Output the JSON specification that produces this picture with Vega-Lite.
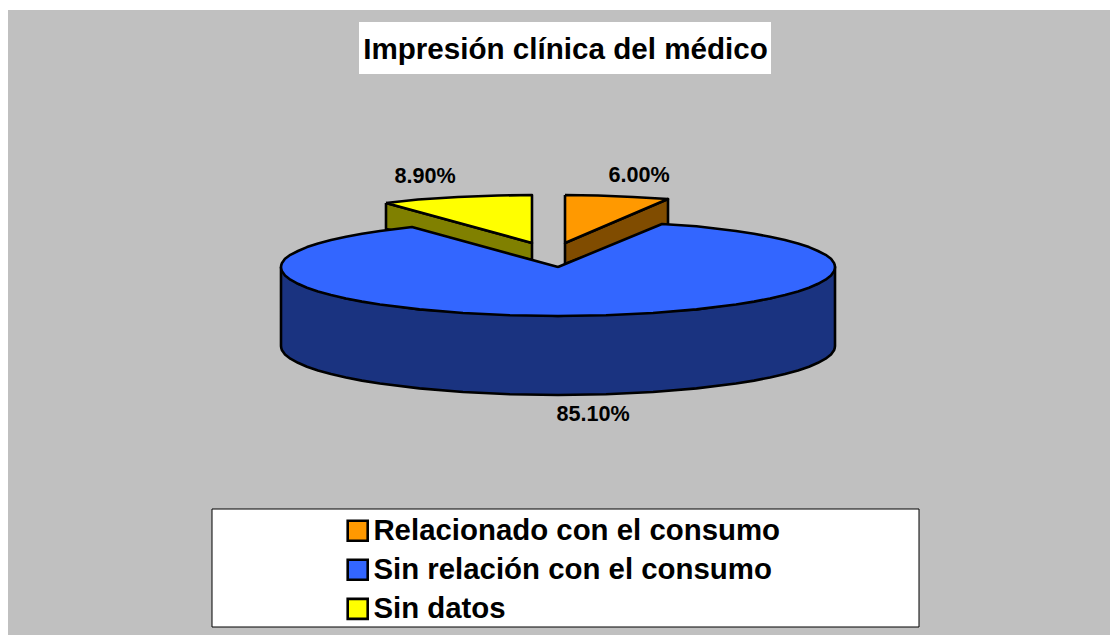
{
"$schema":"https://vega.github.io/schema/vega-lite/v6.json",
"width":1102,"height":625,
"autosize":{"type":"none"},
"padding":{"left":8,"top":10,"right":0,"bottom":0},
"background":"#FFFFFF",
"config":{"view":{"fill":"#C0C0C0","stroke":null}},
"title":{"text":"Impresión clínica del médico","font":"Liberation Sans","fontWeight":"bold","fontSize":29.6,"color":"#000000","anchor":"middle","frame":"group","dx":6.5,"dy":59.5,"zindex":1},
"datasets":{
"cajas":[{"caja":"titulo","x":-199,"x2":213,"y":245,"y2":193},{"caja":"leyenda","x":-346,"x2":361,"y":-242,"y2":-360}],
"etiquetas":[{"cat":"Relacionado con el consumo","valor":0.06,"x":81,"y":91},{"cat":"Sin relación con el consumo","valor":0.851,"x":35,"y":-148},{"cat":"Sin datos","valor":0.089,"x":-133,"y":90}],
"caras":[
{"cara":"lateral","cat":"Sin datos","x":-172,"y":64},{"cara":"lateral","cat":"Sin datos","x":-26,"y":24},{"cara":"lateral","cat":"Sin datos","x":-26,"y":7},{"cara":"lateral","cat":"Sin datos","x":-172,"y":38},{"cara":"lateral","cat":"Sin datos","x":-172,"y":64},
{"cara":"lateral","cat":"Relacionado con el consumo","x":7,"y":24},{"cara":"lateral","cat":"Relacionado con el consumo","x":110,"y":68},{"cara":"lateral","cat":"Relacionado con el consumo","x":110,"y":42},{"cara":"lateral","cat":"Relacionado con el consumo","x":7,"y":3},{"cara":"lateral","cat":"Relacionado con el consumo","x":7,"y":24},
{"cara":"lateral","cat":"Sin relación con el consumo","x":-277,"y":0},{"cara":"lateral","cat":"Sin relación con el consumo","x":-260,"y":-16.8},{"cara":"lateral","cat":"Sin relación con el consumo","x":-212,"y":-31.5},{"cara":"lateral","cat":"Sin relación con el consumo","x":-138.5,"y":-42.4},{"cara":"lateral","cat":"Sin relación con el consumo","x":0,"y":-49},{"cara":"lateral","cat":"Sin relación con el consumo","x":138.5,"y":-42.4},{"cara":"lateral","cat":"Sin relación con el consumo","x":212,"y":-31.5},{"cara":"lateral","cat":"Sin relación con el consumo","x":260,"y":-16.8},{"cara":"lateral","cat":"Sin relación con el consumo","x":277,"y":0},{"cara":"lateral","cat":"Sin relación con el consumo","x":277,"y":-79},{"cara":"lateral","cat":"Sin relación con el consumo","x":276.7,"y":-81.1},{"cara":"lateral","cat":"Sin relación con el consumo","x":276,"y":-83.3},{"cara":"lateral","cat":"Sin relación con el consumo","x":273,"y":-87.5},{"cara":"lateral","cat":"Sin relación con el consumo","x":267.6,"y":-91.7},{"cara":"lateral","cat":"Sin relación con el consumo","x":260,"y":-95.8},{"cara":"lateral","cat":"Sin relación con el consumo","x":251,"y":-99.7},{"cara":"lateral","cat":"Sin relación con el consumo","x":240,"y":-103.5},{"cara":"lateral","cat":"Sin relación con el consumo","x":227,"y":-107.1},{"cara":"lateral","cat":"Sin relación con el consumo","x":212,"y":-110.5},{"cara":"lateral","cat":"Sin relación con el consumo","x":196,"y":-113.6},{"cara":"lateral","cat":"Sin relación con el consumo","x":178,"y":-116.5},{"cara":"lateral","cat":"Sin relación con el consumo","x":138.5,"y":-121.4},{"cara":"lateral","cat":"Sin relación con el consumo","x":95,"y":-125},{"cara":"lateral","cat":"Sin relación con el consumo","x":48,"y":-127.3},{"cara":"lateral","cat":"Sin relación con el consumo","x":0,"y":-128},{"cara":"lateral","cat":"Sin relación con el consumo","x":-48,"y":-127.3},{"cara":"lateral","cat":"Sin relación con el consumo","x":-95,"y":-125},{"cara":"lateral","cat":"Sin relación con el consumo","x":-138.5,"y":-121.4},{"cara":"lateral","cat":"Sin relación con el consumo","x":-178,"y":-116.5},{"cara":"lateral","cat":"Sin relación con el consumo","x":-196,"y":-113.6},{"cara":"lateral","cat":"Sin relación con el consumo","x":-212,"y":-110.5},{"cara":"lateral","cat":"Sin relación con el consumo","x":-227,"y":-107.1},{"cara":"lateral","cat":"Sin relación con el consumo","x":-240,"y":-103.5},{"cara":"lateral","cat":"Sin relación con el consumo","x":-251,"y":-99.7},{"cara":"lateral","cat":"Sin relación con el consumo","x":-260,"y":-95.8},{"cara":"lateral","cat":"Sin relación con el consumo","x":-267.6,"y":-91.7},{"cara":"lateral","cat":"Sin relación con el consumo","x":-273,"y":-87.5},{"cara":"lateral","cat":"Sin relación con el consumo","x":-276,"y":-83.3},{"cara":"lateral","cat":"Sin relación con el consumo","x":-276.7,"y":-81.1},{"cara":"lateral","cat":"Sin relación con el consumo","x":-277,"y":-79},{"cara":"lateral","cat":"Sin relación con el consumo","x":-277,"y":0},
{"cara":"superior","cat":"Relacionado con el consumo","x":7,"y":72},{"cara":"superior","cat":"Relacionado con el consumo","x":40,"y":71.5},{"cara":"superior","cat":"Relacionado con el consumo","x":75,"y":70},{"cara":"superior","cat":"Relacionado con el consumo","x":110,"y":68},{"cara":"superior","cat":"Relacionado con el consumo","x":7,"y":24},{"cara":"superior","cat":"Relacionado con el consumo","x":7,"y":72},
{"cara":"superior","cat":"Sin relación con el consumo","x":0,"y":0},{"cara":"superior","cat":"Sin relación con el consumo","x":104,"y":43},{"cara":"superior","cat":"Sin relación con el consumo","x":138.5,"y":40.7},{"cara":"superior","cat":"Sin relación con el consumo","x":178,"y":36},{"cara":"superior","cat":"Sin relación con el consumo","x":196,"y":33.2},{"cara":"superior","cat":"Sin relación con el consumo","x":212,"y":30.2},{"cara":"superior","cat":"Sin relación con el consumo","x":227,"y":27},{"cara":"superior","cat":"Sin relación con el consumo","x":240,"y":23.5},{"cara":"superior","cat":"Sin relación con el consumo","x":251,"y":19.9},{"cara":"superior","cat":"Sin relación con el consumo","x":260,"y":16},{"cara":"superior","cat":"Sin relación con el consumo","x":267.6,"y":12.2},{"cara":"superior","cat":"Sin relación con el consumo","x":273,"y":8.2},{"cara":"superior","cat":"Sin relación con el consumo","x":276,"y":4.1},{"cara":"superior","cat":"Sin relación con el consumo","x":276.7,"y":2},{"cara":"superior","cat":"Sin relación con el consumo","x":277,"y":0},{"cara":"superior","cat":"Sin relación con el consumo","x":276.7,"y":-2.1},{"cara":"superior","cat":"Sin relación con el consumo","x":276,"y":-4.3},{"cara":"superior","cat":"Sin relación con el consumo","x":273,"y":-8.5},{"cara":"superior","cat":"Sin relación con el consumo","x":267.6,"y":-12.7},{"cara":"superior","cat":"Sin relación con el consumo","x":260,"y":-16.8},{"cara":"superior","cat":"Sin relación con el consumo","x":251,"y":-20.7},{"cara":"superior","cat":"Sin relación con el consumo","x":240,"y":-24.5},{"cara":"superior","cat":"Sin relación con el consumo","x":227,"y":-28.1},{"cara":"superior","cat":"Sin relación con el consumo","x":212,"y":-31.5},{"cara":"superior","cat":"Sin relación con el consumo","x":196,"y":-34.6},{"cara":"superior","cat":"Sin relación con el consumo","x":178,"y":-37.5},{"cara":"superior","cat":"Sin relación con el consumo","x":138.5,"y":-42.4},{"cara":"superior","cat":"Sin relación con el consumo","x":95,"y":-46},{"cara":"superior","cat":"Sin relación con el consumo","x":48,"y":-48.3},{"cara":"superior","cat":"Sin relación con el consumo","x":0,"y":-49},{"cara":"superior","cat":"Sin relación con el consumo","x":-48,"y":-48.3},{"cara":"superior","cat":"Sin relación con el consumo","x":-95,"y":-46},{"cara":"superior","cat":"Sin relación con el consumo","x":-138.5,"y":-42.4},{"cara":"superior","cat":"Sin relación con el consumo","x":-178,"y":-37.5},{"cara":"superior","cat":"Sin relación con el consumo","x":-196,"y":-34.6},{"cara":"superior","cat":"Sin relación con el consumo","x":-212,"y":-31.5},{"cara":"superior","cat":"Sin relación con el consumo","x":-227,"y":-28.1},{"cara":"superior","cat":"Sin relación con el consumo","x":-240,"y":-24.5},{"cara":"superior","cat":"Sin relación con el consumo","x":-251,"y":-20.7},{"cara":"superior","cat":"Sin relación con el consumo","x":-260,"y":-16.8},{"cara":"superior","cat":"Sin relación con el consumo","x":-267.6,"y":-12.7},{"cara":"superior","cat":"Sin relación con el consumo","x":-273,"y":-8.5},{"cara":"superior","cat":"Sin relación con el consumo","x":-276,"y":-4.3},{"cara":"superior","cat":"Sin relación con el consumo","x":-276.7,"y":-2.1},{"cara":"superior","cat":"Sin relación con el consumo","x":-277,"y":0},{"cara":"superior","cat":"Sin relación con el consumo","x":-276.7,"y":2},{"cara":"superior","cat":"Sin relación con el consumo","x":-276,"y":4.1},{"cara":"superior","cat":"Sin relación con el consumo","x":-273,"y":8.2},{"cara":"superior","cat":"Sin relación con el consumo","x":-267.6,"y":12.2},{"cara":"superior","cat":"Sin relación con el consumo","x":-260,"y":16},{"cara":"superior","cat":"Sin relación con el consumo","x":-251,"y":19.9},{"cara":"superior","cat":"Sin relación con el consumo","x":-240,"y":23.5},{"cara":"superior","cat":"Sin relación con el consumo","x":-227,"y":27},{"cara":"superior","cat":"Sin relación con el consumo","x":-212,"y":30.2},{"cara":"superior","cat":"Sin relación con el consumo","x":-196,"y":33.2},{"cara":"superior","cat":"Sin relación con el consumo","x":-178,"y":36},{"cara":"superior","cat":"Sin relación con el consumo","x":-146,"y":40},{"cara":"superior","cat":"Sin relación con el consumo","x":0,"y":0},
{"cara":"superior","cat":"Sin datos","x":-172,"y":64},{"cara":"superior","cat":"Sin datos","x":-140,"y":67.5},{"cara":"superior","cat":"Sin datos","x":-100,"y":70},{"cara":"superior","cat":"Sin datos","x":-60,"y":71.5},{"cara":"superior","cat":"Sin datos","x":-26,"y":72},{"cara":"superior","cat":"Sin datos","x":-26,"y":24},{"cara":"superior","cat":"Sin datos","x":-172,"y":64}
]},
"layer":[
{"data":{"name":"cajas"},
 "mark":{"type":"rect","fill":"#FFFFFF"},
 "encoding":{
  "x":{"field":"x","type":"quantitative","scale":{"domain":[-550,552],"nice":false,"zero":false},"axis":null},
  "x2":{"field":"x2"},
  "y":{"field":"y","type":"quantitative","scale":{"domain":[-368,257],"nice":false,"zero":false},"axis":null},
  "y2":{"field":"y2"},
  "stroke":{"condition":{"test":"datum.caja==='leyenda'","value":"#000000"},"value":null}
 }},
{"data":{"name":"caras"},
 "transform":[{"filter":"datum.cara==='lateral'"}],
 "mark":{"type":"line","stroke":"#000000","strokeWidth":2.6,"strokeJoin":"round"},
 "encoding":{
  "x":{"field":"x","type":"quantitative"},
  "y":{"field":"y","type":"quantitative"},
  "order":{"value":null},
  "fill":{"field":"cat","type":"nominal","legend":null,"scale":{"domain":["Relacionado con el consumo","Sin relación con el consumo","Sin datos"],"range":["#804C00","#1A3380","#808000"]}}
 }},
{"data":{"name":"caras"},
 "transform":[{"filter":"datum.cara==='superior'"}],
 "mark":{"type":"line","stroke":"#000000","strokeWidth":2.6,"strokeJoin":"round"},
 "encoding":{
  "x":{"field":"x","type":"quantitative"},
  "y":{"field":"y","type":"quantitative"},
  "order":{"value":null},
  "fill":{"field":"cat","type":"nominal","scale":{"domain":["Relacionado con el consumo","Sin relación con el consumo","Sin datos"],"range":["#FF9900","#3366FF","#FFFF00"]},
   "legend":{"title":null,"orient":"none","legendX":335,"legendY":506,"padding":0,"symbolType":"square","symbolSize":400,"symbolStrokeColor":"#000000","symbolStrokeWidth":2.6,"labelFont":"Liberation Sans","labelFontWeight":"bold","labelFontSize":29.4,"labelColor":"#000000","labelOffset":1,"rowPadding":8.1,"labelLimit":600}}
 }},
{"data":{"name":"etiquetas"},
 "mark":{"type":"text","font":"Liberation Sans","fontWeight":"bold","fontSize":21.6,"color":"#000000","align":"center","baseline":"middle"},
 "encoding":{
  "x":{"field":"x","type":"quantitative"},
  "y":{"field":"y","type":"quantitative"},
  "text":{"field":"valor","type":"quantitative","format":".2%"}
 }}
],
"resolve":{"scale":{"fill":"independent"}}
}
